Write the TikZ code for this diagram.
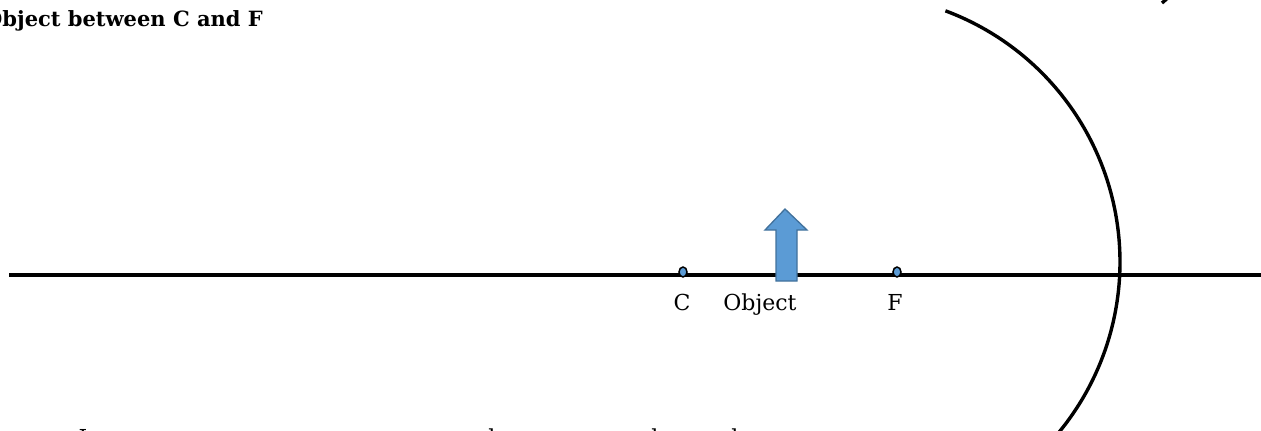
\documentclass[tikz,border=0pt]{standalone}
\usepackage{fontspec}
\setmainfont{DejaVu Serif}
\usetikzlibrary{shapes.geometric}
\definecolor{objblue}{HTML}{5B9BD5}
\definecolor{objedge}{HTML}{41719C}

\begin{document}
\begin{tikzpicture}[x=1pt,y=-1pt,
  lbl/.style={anchor=base,inner sep=0,font=\fontsize{22}{26}\selectfont},
  dotpt/.style={ellipse,draw=black,line width=1.5,fill=objblue,minimum width=8,minimum height=10,inner sep=0}]
\useasboundingbox (0,0) rectangle (1261,431);
\clip (0,0) rectangle (1261,431);

% --- Title (cut at the left edge) ---
\node[anchor=base west,inner sep=0,font=\fontsize{21}{25}\selectfont\bfseries] (title) at (-16,27) {Object between C and F};

% --- Principal axis ---
\draw[line width=3.6] (9,275) -- (1261,275);

% --- Mirror ---
\coordinate (ctr) at (852,262);
\draw[line width=3.4] (ctr) ++(-69.6:268) arc[start angle=-69.6,end angle=45,radius=268];
\draw[line width=3.4] (1162,3) -- (1170,-4);

% --- Object arrow ---
\draw[objedge,fill=objblue,line width=1.3] (776,281) -- (776,230) -- (765,230) -- (785,209)
  -- (807,230) -- (797,230) -- (797,281) -- cycle;

% --- Points C and F ---
\node[dotpt] (C) at (683,272) {};
\node[dotpt] (F) at (897,272) {};
\node[lbl] (Clab) at (682,310) {C};
\node[lbl] (objlab) at (760,310) {Object};
\node[lbl] (Flab) at (895,310) {F};

% --- Text below (cut at the bottom edge) ---
\foreach \x/\ch [count=\i] in {83/I,492/l,655/l,735/l}
  \node[lbl] (low\i) at (\x,445) {\ch};
\end{tikzpicture}
\end{document}
